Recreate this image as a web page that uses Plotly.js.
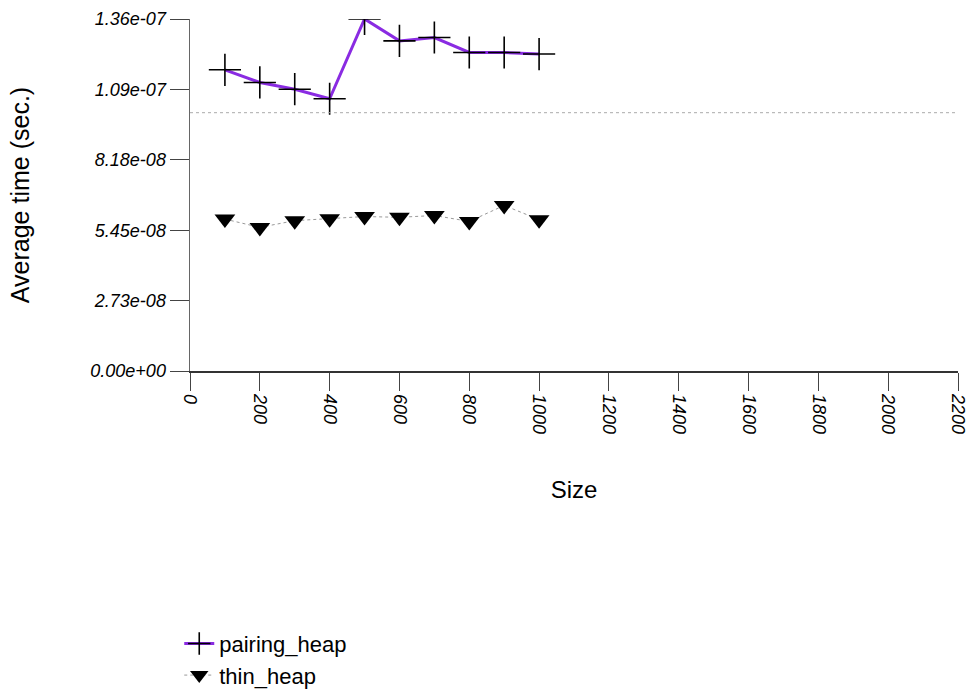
<!DOCTYPE html>
<html>
<head>
<meta charset="utf-8">
<script src="https://cdn.plot.ly/plotly-3.0.1.min.js"></script>
<style>html,body{margin:0;padding:0;background:#fff;}#chart{width:976px;height:695px;}</style>
</head>
<body>
<div id="chart"></div>
<script>
const sizes = [100, 200, 300, 400, 500, 600, 700, 800, 900, 1000];
const pairingHeap = [1.166e-7, 1.117e-7, 1.091e-7, 1.054e-7, 1.363e-7, 1.278e-7, 1.291e-7, 1.233e-7, 1.233e-7, 1.227e-7];
const thinHeap = [5.88e-8, 5.56e-8, 5.82e-8, 5.89e-8, 5.98e-8, 5.95e-8, 6.02e-8, 5.79e-8, 6.41e-8, 5.86e-8];
const yTickVals = [0, 2.7254e-8, 5.4508e-8, 8.1762e-8, 1.09016e-7, 1.3627e-7];
const yTickText = ["0.00e+00", "2.73e-08", "5.45e-08", "8.18e-08", "1.09e-07", "1.36e-07"];
const xTickVals = [0, 200, 400, 600, 800, 1000, 1200, 1400, 1600, 1800, 2000, 2200];
const refLevel = 1.0e-7;

const font = "Liberation Sans, Arial, Helvetica, sans-serif";

const traces = [
  {
    x: sizes, y: pairingHeap, name: "pairing_heap", type: "scatter", mode: "lines+markers",
    line: {color: "#8a2be2", width: 3},
    marker: {symbol: "cross-thin", size: 23, color: "#000", line: {color: "#000", width: 1.6}}
  },
  {
    x: sizes, y: thinHeap, name: "thin_heap", type: "scatter", mode: "lines+markers",
    line: {color: "#999", width: 1, dash: "dot"},
    marker: {symbol: "triangle-down", size: 18, color: "#000", line: {width: 0}}
  }
];

const layout = {
  width: 976, height: 695,
  margin: {l: 190, r: 18, t: 19, b: 324, autoexpand: false},
  paper_bgcolor: "#fff", plot_bgcolor: "#fff",
  font: {family: font, color: "#000"},
  showlegend: true,
  legend: {x: -0.014, y: -0.715, xanchor: "left", yanchor: "top", itemwidth: 30,
           font: {family: font, size: 22, color: "#000"}, tracegroupgap: 0, bgcolor: "rgba(0,0,0,0)"},
  xaxis: {
    range: [0, 2200], tickvals: xTickVals, ticktext: xTickVals.map(String),
    tickangle: 90, ticks: "outside", ticklen: 18, tickcolor: "#444", tickwidth: 1,
    tickfont: {family: font, size: 18, style: "italic", color: "#000"},
    showline: true, linecolor: "#333", linewidth: 1.5, showgrid: false, zeroline: false,
    title: {text: "Size", font: {family: font, size: 24, color: "#000"}, standoff: 48}
  },
  yaxis: {
    range: [0, 1.3627e-7], tickvals: yTickVals, ticktext: yTickText,
    ticks: "outside", ticklen: 19, tickcolor: "#444", tickwidth: 1,
    tickfont: {family: font, size: 18, style: "italic", color: "#000"},
    showline: true, linecolor: "#666", linewidth: 1.5, showgrid: false, zeroline: false,
    title: {text: "Average time (sec.)", font: {family: font, size: 25, color: "#000"}, standoff: 53}
  },
  shapes: [{
    type: "line", xref: "paper", x0: 0, x1: 1, yref: "y", y0: refLevel, y1: refLevel,
    line: {color: "#aaa", width: 1, dash: "dot"}
  }]
};

Plotly.newPlot("chart", traces, layout, {displayModeBar: false, staticPlot: true});
</script>
</body>
</html>
